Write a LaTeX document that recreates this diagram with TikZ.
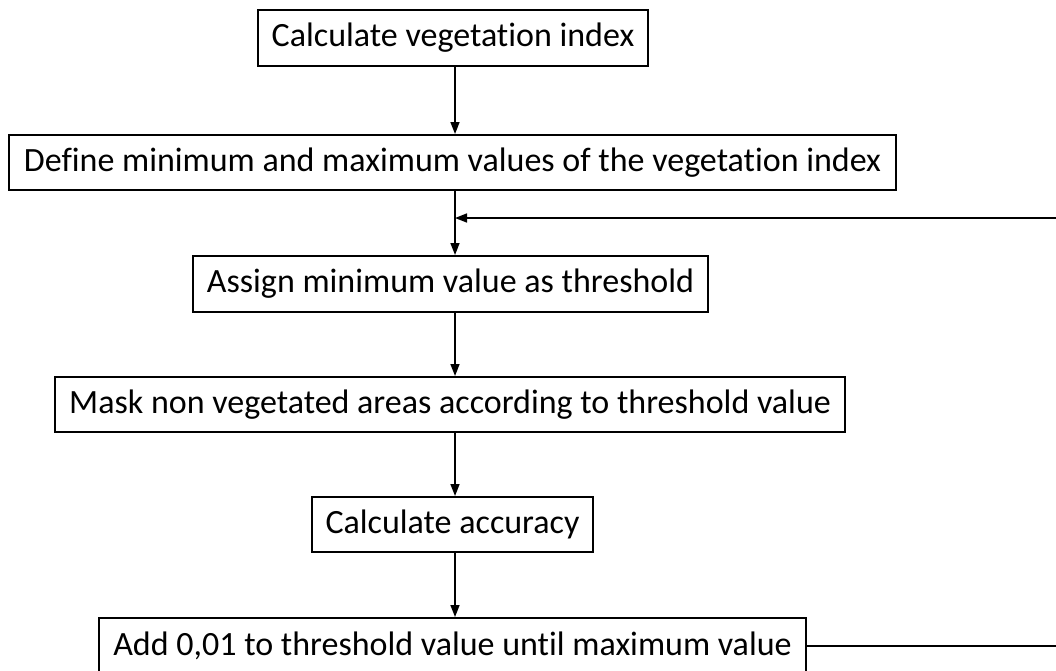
\documentclass[tikz,border=0pt]{standalone}
\usepackage{fontspec}
\setmainfont{Carlito}[Ligatures=NoCommon]
\usetikzlibrary{arrows.meta}
\begin{document}
\begin{tikzpicture}[x=1pt,y=-1pt,
  box/.style={draw=black,line width=2pt,fill=white,inner sep=0pt,font=\fontsize{34}{40}\selectfont},
  arr/.style={line width=1.6pt,-{Triangle[length=12pt,width=9pt]}},
  ln/.style={line width=1.6pt}]
\clip (0,0) rectangle (1056,670);
\fill[white] (0,0) rectangle (1056,670);
\coordinate (col) at (455,0);
\node[box,minimum width=390pt,minimum height=56pt] (b1) at (453,38) {Calculate vegetation index};
\node[box,minimum width=887pt,minimum height=55pt] (b2) at (452.5,162.5) {Define minimum and maximum values of the vegetation index};
\node[box,minimum width=515pt,minimum height=56pt] (b3) at (450.5,284) {Assign minimum value as threshold};
\node[box,minimum width=790pt,minimum height=55pt] (b4) at (450,404.5) {Mask non vegetated areas according to threshold value};
\node[box,minimum width=281pt,minimum height=55pt] (b5) at (452.5,524.5) {Calculate accuracy};
\node[box,minimum width=707pt,minimum height=56pt] (b6) at (452.5,646) {Add 0,01 to threshold value until maximum value};
\coordinate (join) at (455,218);
\draw[arr] (b1.south -| col) -- (b2.north -| col);
\draw[arr] (b2.south -| col) -- (b3.north -| col);
\draw[arr] (b3.south -| col) -- (b4.north -| col);
\draw[arr] (b4.south -| col) -- (b5.north -| col);
\draw[arr] (b5.south -| col) -- (b6.north -| col);
\draw[arr] (b6.east) -- (1080,646) |- (join);
\end{tikzpicture}
\end{document}
